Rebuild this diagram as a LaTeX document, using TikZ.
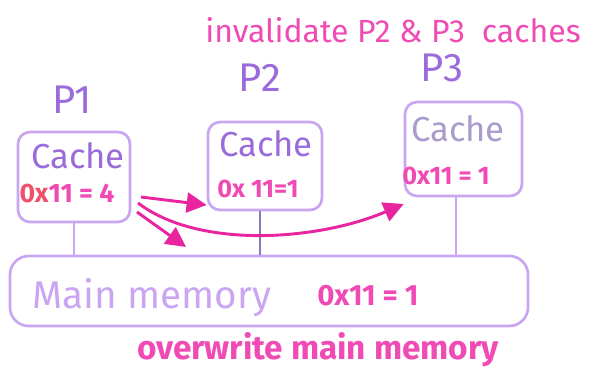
\documentclass[tikz,border=0pt]{standalone}
\usepackage{fontspec}
\setmainfont{Fira Sans}
\usetikzlibrary{arrows.meta,fit}
\definecolor{lav}{HTML}{C9A5F2}
\definecolor{lavdark}{HTML}{9A6BDB}
\definecolor{lavgray}{HTML}{A99CCB}
\definecolor{wire}{HTML}{8A78BE}
\definecolor{pinkink}{HTML}{F04BB5}
\definecolor{hotpink}{HTML}{E8259F}
\definecolor{redink}{HTML}{F0506A}
\tikzset{
  cachebox/.style={draw=lav, line width=2pt, rounded corners=9pt, inner sep=0pt},
  membox/.style={draw=lav, line width=2pt, rounded corners=14pt, inner sep=0pt},
  plabel/.style={text=lavdark, font=\fontsize{30}{34}\selectfont},
  cachetxt/.style={text=lavdark, font=\fontsize{26}{30}\selectfont},
  valtxt/.style={text=pinkink, font=\fontsize{19}{22}\selectfont\bfseries},
  note/.style={text=pinkink, font=\fontsize{24}{28}\selectfont},
  wireline/.style={draw=lav, line width=1.6pt},
  push/.style={draw=hotpink, line width=2.2pt, -{Triangle[length=15pt,width=15pt]}},
}
\begin{document}
\begin{tikzpicture}[x=0.75pt,y=-0.75pt]
\useasboundingbox (0,0) rectangle (605,382);

% caches and main memory
\node[cachebox, fit={(18,132) (130,222)}] (c1) {};
\node[cachebox, fit={(208,122) (322,210)}] (c2) {};
\node[cachebox, fit={(405,102) (522,196)}] (c3) {};
\node[membox, fit={(10,256) (528,326)}] (mem) {};

% processor names
\node[plabel] (p1) at (72,100) {P1};
\node[plabel] (p2) at (260,78) {P2};
\node[plabel] (p3) at (442,68) {P3};

% cache contents
\node[cachetxt] (t1) at (78,156) {Cache};
\node[font=\fontsize{20}{24}\selectfont\bfseries] (v1) at (67,193) {\textcolor{redink}{0x}\textcolor{pinkink}{11 = 4}};
\node[cachetxt] (t2) at (266,144) {Cache};
\node[valtxt] (v2) at (258,189) {0x 11=1};
\node[cachetxt, text=lavgray] (t3) at (458,129) {Cache};
\node[valtxt] (v3) at (446,176) {0x11 = 1};

% main memory contents
\node[text=lav, font=\fontsize{29}{33}\selectfont] (mt) at (152,298) {Main memory};
\node[valtxt, font=\fontsize{22}{26}\selectfont\bfseries] (mv) at (368,296) {0x11 = 1};

% bus wires
\draw[wireline] (74,0 |- c1.south) -- (74,0 |- mem.north);
\draw[wireline, draw=wire, line width=1.2pt] (260,0 |- c2.south) -- (260,0 |- mem.north);
\draw[wireline] (456,0 |- c3.south) -- (456,0 |- mem.north);

% notes
\node[note] (inv) at (393,30) {invalidate P2 \& P3 \ caches};
\node[note, font=\fontsize{25}{29}\selectfont\bfseries] (ow) at (318,350) {overwrite main memory};

% write-through / invalidate traffic
\coordinate (a0) at (141,197);
\coordinate (b0) at (138,203);
\coordinate (d0) at (137,212);
\draw[push] (a0) -- (c2.west |- 0,205);
\draw[push] (b0) .. controls (200,250) and (320,240) .. (c3.west |- 0,204);
\draw[push] (d0) -- (186,247);
\end{tikzpicture}
\end{document}
